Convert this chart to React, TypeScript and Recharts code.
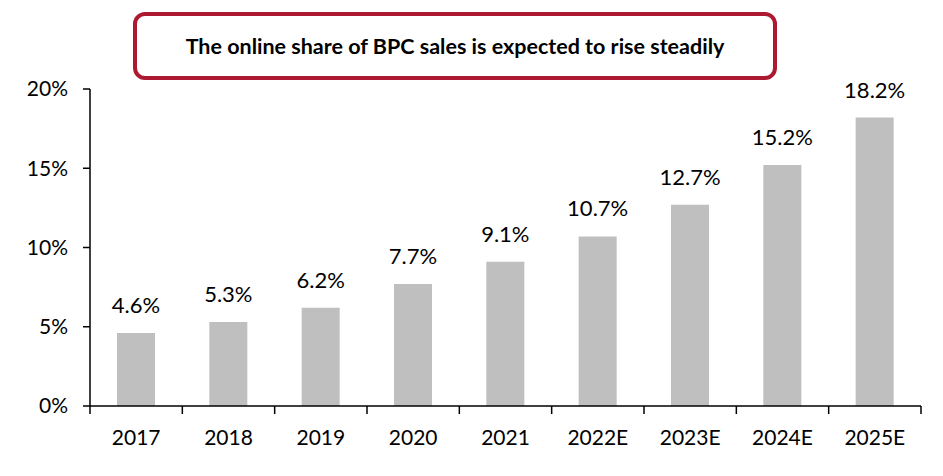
import { BarChart, Bar, XAxis, YAxis, LabelList } from "recharts";

const years = ["2017", "2018", "2019", "2020", "2021", "2022E", "2023E", "2024E", "2025E"];
const onlineShare = [4.6, 5.3, 6.2, 7.7, 9.1, 10.7, 12.7, 15.2, 18.2];
const yTicks = [0, 5, 10, 15, 20];

const data = years.map((year, i) => ({ year, share: onlineShare[i] }));

const W = 943;
const H = 476;
const margin = { top: 89, right: 22, bottom: 30, left: 0 };
const Y_AXIS_W = 90;
const BAND = (W - margin.left - margin.right - Y_AXIS_W) / years.length;
const FONT = "Lato, 'Open Sans', sans-serif";

function YearTick(props: any) {
  const { x, y, payload, index } = props;
  const last = index === years.length - 1;
  return (
    <g>
      <line x1={x - BAND / 2} y1={y} x2={x - BAND / 2} y2={y + 8} stroke="#000" strokeWidth={1.5} />
      {last && (
        <line x1={x + BAND / 2} y1={y} x2={x + BAND / 2} y2={y + 8} stroke="#000" strokeWidth={1.5} />
      )}
      <text x={x} y={y + 24} dy="0.71em" textAnchor="middle" fill="#000" fontSize={21} fontFamily={FONT}>
        {payload.value}
      </text>
    </g>
  );
}

export default function App() {
  return (
    <div style={{ position: "absolute", left: 0, top: 0, width: W, height: H, background: "#fff" }}>
      <div
        style={{
          position: "absolute",
          left: 133,
          top: 12,
          width: 644,
          height: 68,
          boxSizing: "border-box",
          border: "4px solid #AD1931",
          borderRadius: 12,
          display: "flex",
          alignItems: "center",
          justifyContent: "center",
          fontFamily: FONT,
          fontWeight: 700,
          fontSize: 21.5,
          color: "#000",
        }}
      >
        The online share of BPC sales is expected to rise steadily
      </div>
      <BarChart width={W} height={H} data={data} margin={margin}>
        <XAxis
          dataKey="year"
          axisLine={{ stroke: "#000", strokeWidth: 1.5 }}
          tickLine={false}
          tickSize={0}
          tickMargin={0}
          interval={0}
          height={40}
          tick={<YearTick />}
        />
        <YAxis
          domain={[0, 20]}
          ticks={yTicks}
          width={Y_AXIS_W}
          axisLine={{ stroke: "#000", strokeWidth: 1.5 }}
          tickLine={{ stroke: "#000", strokeWidth: 1.5 }}
          tickSize={7}
          tickMargin={15}
          tickFormatter={(v: number) => `${v}%`}
          tick={{ fill: "#000", fontSize: 21, fontFamily: FONT }}
        />
        <Bar dataKey="share" fill="#BFBFBF" barSize={38} isAnimationActive={false}>
          <LabelList
            dataKey="share"
            position="top"
            offset={20}
            formatter={(v: any) => `${Number(v).toFixed(1)}%`}
            fill="#000"
            fontSize={22}
            fontFamily={FONT}
          />
        </Bar>
      </BarChart>
    </div>
  );
}
